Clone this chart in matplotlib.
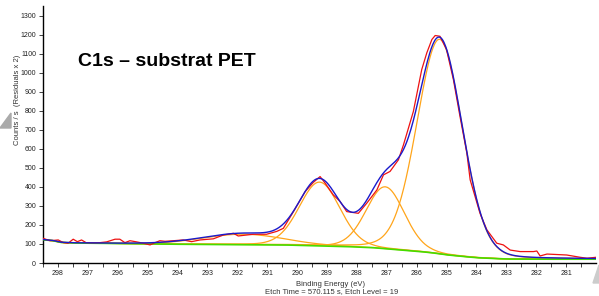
import numpy as np
import matplotlib
matplotlib.use("Agg")
import matplotlib.pyplot as plt
from matplotlib.patches import Polygon

plt.rcParams['font.family'] = ['Liberation Sans', 'DejaVu Sans']

data_be = [298.5, 298.27, 297.99, 297.82, 297.66, 297.49, 297.35, 297.21, 297.06, 296.8,
           296.59, 296.37, 296.09, 295.93, 295.76, 295.59, 295.37, 295.15, 294.92, 294.75,
           294.59, 294.42, 294.14, 293.81, 293.53, 293.25, 292.8, 292.47, 292.13, 291.97,
           291.46, 291.02, 290.68, 290.46, 290.12, 289.73, 289.46, 289.23, 289.06, 288.79,
           288.56, 288.34, 288.12, 287.95, 287.67, 287.33, 287.11, 286.89, 286.61, 286.44,
           286.11, 285.83, 285.66, 285.49, 285.38, 285.22, 285.0, 284.77, 284.55, 284.32,
           284.21, 283.88, 283.65, 283.32, 283.1, 282.87, 282.54, 282.09, 281.98, 281.87,
           281.64, 280.98, 280.53, 280.3, 280.0]
data_counts = [130, 117, 121, 107, 104, 125, 112, 121, 107, 106,
               107, 111, 125, 125, 107, 117, 111, 104, 95, 107,
               117, 114, 117, 121, 112, 121, 127, 147, 156, 142,
               151, 151, 166, 182, 270, 375, 423, 454, 419, 358,
               323, 270, 265, 261, 314, 384, 463, 481, 542, 621,
               796, 1016, 1104, 1174, 1195, 1191, 1121, 963, 770, 577,
               437, 261, 174, 104, 95, 68, 60, 60, 63, 37,
               47, 42, 30, 25, 30]

# Background (green)
bg_be = [298.5, 298.2, 297.9, 297.5, 296.5, 295.5, 294.5, 293.5, 292.5, 291.5, 290.5,
         289.5, 288.5, 287.5, 286.8, 286.0, 285.5, 285.0, 284.5, 284.0, 283.5, 283.0,
         282.0, 281.0, 280.0]
bg_counts = [122, 118, 108, 105, 103, 101, 99, 98, 97, 96, 95,
             91, 87, 81, 72, 62, 54, 43, 35, 28, 24, 21, 20, 20, 20]

# Fitted components (orange): centre (eV), height (counts above bg), FWHM (eV)
comp_center = [285.23, 287.05, 289.25, 291.8]
comp_height = [1127, 325, 335, 55]
comp_fwhm = [1.78, 1.5, 1.6, 3.2]
gl_mix = 0.1

x_ticks = list(range(298, 280, -1))

be = np.linspace(298.5, 280.0, 700)
bg = np.interp(be, bg_be[::-1], bg_counts[::-1])

def gl(x, c, h, w, m):
    t = ((x - c) / w) ** 2
    return h * ((1 - m) * np.exp(-4 * np.log(2) * t) + m / (1 + 4 * t))

comps = [gl(be, c, h, w, gl_mix) for c, h, w in zip(comp_center, comp_height, comp_fwhm)]
envelope = bg + np.sum(comps, axis=0)

fig = plt.figure(figsize=(5.99, 2.96), dpi=100)
ax = fig.add_axes([43/599, 1-263/296, (596-43)/599, (263-6)/296])

for cp in comps:
    ax.plot(be, bg + cp, color='#ffa51a', lw=0.9, zorder=2)
ax.plot(be, bg, color='#44dd00', lw=1.2, zorder=3)
ax.plot(data_be, data_counts, color='#ee1111', lw=0.9, zorder=4)
ax.plot(be, envelope, color='#1a1acc', lw=1.0, zorder=5)

ax.set_xlim(298.5, 280.0)
ax.set_ylim(0, 1350)
ax.set_xticks(x_ticks)
ax.set_xticks(np.arange(298.5, 280, -0.5), minor=True)
ax.set_yticks(range(0, 1301, 100))
for s in ['top', 'right']:
    ax.spines[s].set_visible(False)
ax.spines['left'].set_linewidth(1.0)
ax.spines['bottom'].set_linewidth(1.0)
ax.tick_params(axis='both', which='major', labelsize=5, length=3, width=0.6,
               colors='#222222', pad=2)
ax.tick_params(axis='x', which='minor', length=3, width=0.6, colors='#222222')

fig.text(78/599, 1-61/296, "C1s – substrat PET", fontsize=14,
         fontweight='bold', va='center', ha='left')

fig.text(18/599, 1-100/296, "Counts / s  (Residuals x 2)", rotation=90,
         fontsize=5.5, ha='center', va='center', color='#333333')
fig.text(331/599, 1-284/296, "Binding Energy (eV)", fontsize=5.5,
         ha='center', va='center', color='#333333')
fig.text(332/599, 1-292/296, "Etch Time = 570.115 s, Etch Level = 19", fontsize=5.5,
         ha='center', va='center', color='#333333')

# decorative gray triangles from the slide
fig.patches.append(Polygon([(0/599, 1-128/296), (11/599, 1-113/296), (11/599, 1-128/296)],
                           closed=True, transform=fig.transFigure, color='#aaaaaa',
                           figure=fig))
fig.patches.append(Polygon([(593/599, 1-283/296), (599/599, 1-265/296), (599/599, 1-283/296)],
                           closed=True, transform=fig.transFigure, color='#cccccc',
                           figure=fig))

fig.savefig("out.png", dpi=100)
